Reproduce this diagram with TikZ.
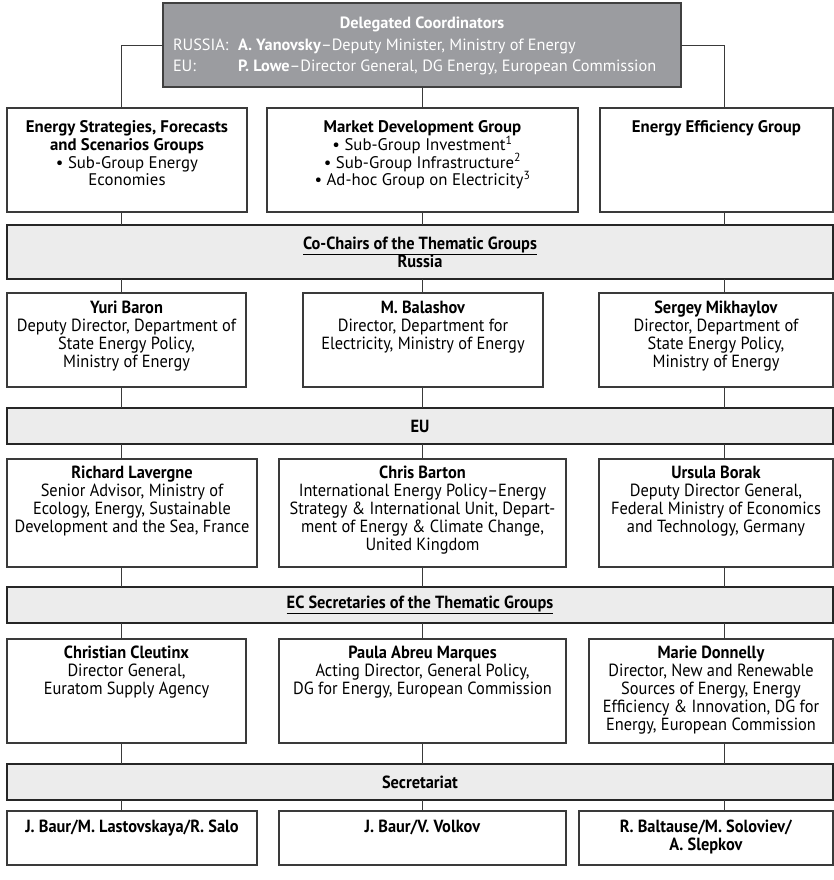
\documentclass[tikz,border=0pt]{standalone}
\usepackage{fontspec}
\setmainfont{PT Sans}
\newfontfamily\cnd[FakeStretch=0.93]{PT Sans}
\definecolor{topfill}{HTML}{9B9CA0}
\definecolor{bandfill}{HTML}{ECECEC}
\definecolor{linec}{HTML}{3A3A3A}
\newcommand{\up}{\fontsize{16.8}{17.8}\selectfont}
\newcommand{\lo}{\cnd\fontsize{17.6}{18.2}\selectfont}
% \bx{width}{height}{first baseline}{font}{text}
\newcommand{\bx}[5]{\parbox[c][#2pt][t]{#1pt}{#4\lineskiplimit=-20pt\centering\rule{0pt}{#3pt}#5}}
\newcommand{\bnd}[3]{\parbox[c][#1pt][c]{826pt}{#2\lineskiplimit=-20pt\centering #3}}
\begin{document}
\begin{tikzpicture}[x=1pt,y=-1pt,
  box/.style={draw=linec, line width=1.1pt, fill=white, inner sep=0pt, outer sep=0pt, anchor=north west},
  band/.style={box, fill=bandfill, line width=1.3pt, draw=black!85},
  topbox/.style={box, fill=topfill, text=white, draw=black!75},
  conn/.style={draw=linec, line width=0.9pt}]
\useasboundingbox (0,0) rectangle (834,880);
\coordinate (c1) at (121,0);
\coordinate (c2) at (422,0);
\coordinate (c3) at (724,0);

% top box
\node[topbox] (top) at (163,3) {\parbox[c][84pt][t]{518pt}{\fontsize{16.3}{21.3}\selectfont\centering\rule{0pt}{26pt}\textbf{Delegated Coordinators}\par\raggedright\hspace*{10pt}\makebox[65pt][l]{RUSSIA:}\textbf{A. Yanovsky}–Deputy Minister, Ministry of Energy\par\hspace*{10pt}\makebox[65pt][l]{EU:}\textbf{P. Lowe}–Director General, DG Energy, European Commission}};

% group boxes
\node[box] (g1) at (7,108) {\bx{240}{104}{24.5}{\up}{\textbf{Energy Strategies, Forecasts}\\\textbf{and Scenarios Groups}\\• Sub-Group Energy\\Economies}};
\node[box] (g2) at (267,108) {\bx{311}{104}{24.5}{\up}{\textbf{Market Development Group}\\• Sub-Group Investment\textsuperscript{1}\\• Sub-Group Infrastructure\textsuperscript{2}\\• Ad-hoc Group on Electricity\textsuperscript{3}}};
\node[box] (g3) at (600,108) {\bx{233}{104}{24.5}{\up}{\textbf{Energy Efficiency Group}}};

% band 1
\node[band] (b1) at (7,225) {\bnd{54}{\lo}{\textbf{\underline{Co-Chairs of the Thematic Groups}}\\\textbf{Russia}}};

% row 1
\node[box] (r1a) at (7,293) {\bx{239}{94}{20}{\lo}{\textbf{Yuri Baron}\\Deputy Director, Department of\\State Energy Policy,\\Ministry of Energy}};
\node[box] (r1b) at (303,293) {\bx{240}{94}{20}{\lo}{\textbf{M. Balashov}\\Director, Department for\\Electricity, Ministry of Energy}};
\node[box] (r1c) at (599,293) {\bx{234}{94}{20}{\lo}{\textbf{Sergey Mikhaylov}\\Director, Department of\\State Energy Policy,\\Ministry of Energy}};

% band 2
\node[band] (b2) at (7,408) {\bnd{36}{\lo}{\textbf{EU}}};

% row 2
\node[box] (r2a) at (7,459) {\bx{250}{108}{19}{\lo}{\textbf{Richard Lavergne}\\Senior Advisor, Ministry of\\Ecology, Energy, Sustainable\\Development and the Sea, France}};
\node[box] (r2b) at (279,459) {\bx{287}{108}{19}{\lo}{\textbf{Chris Barton}\\International Energy Policy–Energy\\Strategy \& International Unit, Depart-\\ment of Energy \& Climate Change,\\United Kingdom}};
\node[box] (r2c) at (599,459) {\bx{234}{108}{19}{\lo}{\textbf{Ursula Borak}\\Deputy Director General,\\Federal Ministry of Economics\\and Technology, Germany}};

% band 3
\node[band] (b3) at (7,587) {\bnd{36}{\lo}{\textbf{\underline{EC Secretaries of the Thematic Groups}}}};

% row 3
\node[box] (r3a) at (7,639) {\bx{239}{104}{19}{\lo}{\textbf{Christian Cleutinx}\\Director General,\\Euratom Supply Agency}};
\node[box] (r3b) at (279,639) {\bx{287}{104}{19}{\lo}{\textbf{Paula Abreu Marques}\\Acting Director, General Policy,\\DG for Energy, European Commission}};
\node[box] (r3c) at (589,639) {\bx{244}{104}{19}{\lo}{\textbf{Marie Donnelly}\\Director, New and Renewable\\Sources of Energy, Energy\\Efficiency \& Innovation, DG for\\Energy, European Commission}};

% band 4
\node[band] (b4) at (7,764) {\bnd{36}{\lo}{\textbf{Secretariat}}};

% row 4
\node[box] (r4a) at (7,811) {\bx{250}{54}{21.5}{\lo}{\textbf{J. Baur/M. Lastovskaya/R. Salo}}};
\node[box] (r4b) at (279,811) {\bx{287}{54}{21.5}{\lo}{\textbf{J. Baur/V. Volkov}}};
\node[box] (r4c) at (579,811) {\bx{254}{54}{21.5}{\lo}{\textbf{R. Baltause/M. Soloviev/}\\\textbf{A. Slepkov}}};

% connectors
\draw[conn] (top.west) -| (g1.north -| c1);
\draw[conn] (top.east) -| (g3.north -| c3);
\draw[conn] (top.south -| c2) -- (g2.north -| c2);
\foreach \a/\b/\c in {g1/b1/c1, g2/b1/c2, g3/b1/c3,
  b1/r1a/c1, b1/r1b/c2, b1/r1c/c3,
  r1a/b2/c1, r1b/b2/c2, r1c/b2/c3,
  b2/r2a/c1, b2/r2b/c2, b2/r2c/c3,
  r2a/b3/c1, r2b/b3/c2, r2c/b3/c3,
  b3/r3a/c1, b3/r3b/c2, b3/r3c/c3,
  r3a/b4/c1, r3b/b4/c2, r3c/b4/c3,
  b4/r4a/c1, b4/r4b/c2, b4/r4c/c3}
  \draw[conn] (\a.south -| \c) -- (\b.north -| \c);
\end{tikzpicture}
\end{document}
